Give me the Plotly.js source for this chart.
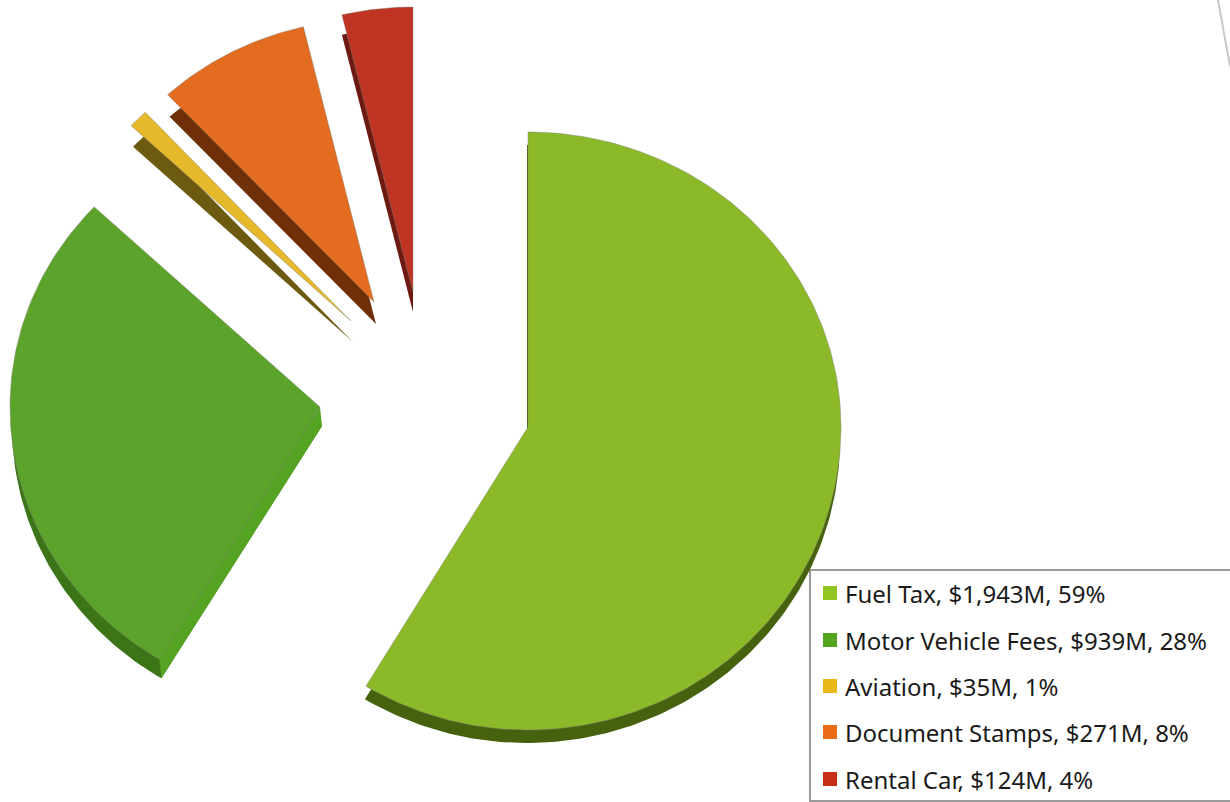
<!DOCTYPE html>
<html>
<head>
<meta charset="utf-8">
<script src="https://cdn.plot.ly/plotly-3.0.1.min.js"></script>
<style>
html,body{margin:0;padding:0;background:#fff}
#chart{width:1230px;height:802px}
</style>
</head>
<body>
<div id="chart"></div>
<script>
// Data
const categories = ["Fuel Tax", "Motor Vehicle Fees", "Aviation", "Document Stamps", "Rental Car"];
const revenue = [1943, 939, 35, 271, 124];
const revenueLabels = ["$1,943M", "$939M", "$35M", "$271M", "$124M"];

// Styles
const topColors = ["#8bb928", "#5ca32b", "#e6b92b", "#e36c20", "#c03423"];
const sideColors = ["#46620f", "#3b7518", "#6b5a10", "#6f3007", "#6e1a12"];
const legendColors = ["#92c521", "#53a31f", "#e7b818", "#ea6a17", "#c82d17"];
const radialFaceColor = "#54a322";

// Geometry of the exploded, tilted pie (pixels on the hidden axes)
const apexX = [528, 320, 351, 374, 413];
const apexY = [427, 407, 321, 302, 292];
const radiusX = [313, 310, 302, 303, 305];
const radiusUp = [295, 292, 285, 283, 285];
const radiusDown = [303, 295, 285, 283, 285];
const depthX = [-1, 2, 2, 2, 0];
const depthY = [13, 19, 21, 22, 20];

const total = revenue.reduce((a, b) => a + b, 0);
const traces = [];
const startAngles = [];
let running = 0;
revenue.forEach(v => { startAngles.push(running); running += v / total * 360; });

function wedge(i, dx, dy) {
  const a0 = startAngles[i], a1 = a0 + revenue[i] / total * 360;
  const xs = [apexX[i] + dx], ys = [apexY[i] + dy];
  const n = Math.max(2, Math.ceil(a1 - a0));
  for (let k = 0; k <= n; k++) {
    const t = (a0 + (a1 - a0) * k / n) * Math.PI / 180;
    const c = Math.cos(t);
    const ry = c >= 0 ? radiusUp[i] : radiusDown[i];
    xs.push(apexX[i] + dx + radiusX[i] * Math.sin(t));
    ys.push(apexY[i] + dy - ry * c);
  }
  xs.push(xs[0]); ys.push(ys[0]);
  return {xs, ys};
}

function poly(x, y, color, name, line) {
  return {type: "scatter", mode: "lines", x, y, fill: "toself", fillcolor: color,
    line: line || {width: 0, color}, hoverinfo: "text", text: name, showlegend: false};
}

categories.forEach((name, i) => {
  const label = name + ", " + revenueLabels[i] + ", " + Math.round(revenue[i] / total * 100) + "%";
  const side = wedge(i, depthX[i], depthY[i]);
  traces.push(poly(side.xs, side.ys, sideColors[i], label));
  if (i === 1) {
    // lit radial face of the motor vehicle slice
    const top = wedge(i, 0, 0);
    traces.push(poly(
      [top.xs[0], top.xs[1], side.xs[1], side.xs[0], top.xs[0]],
      [top.ys[0], top.ys[1], side.ys[1], side.ys[0], top.ys[0]],
      radialFaceColor, label));
  }
  const top = wedge(i, 0, 0);
  traces.push(poly(top.xs, top.ys, topColors[i], label, {width: 1, color: "rgba(130,130,120,0.45)"}));
});

// Legend rows
const legendRowY = [593, 640, 686, 732, 779];
traces.push({type: "scatter", mode: "markers", x: categories.map(() => 830), y: legendRowY,
  marker: {symbol: "square", size: 14, color: legendColors}, hoverinfo: "skip", showlegend: false, cliponaxis: false});

const annotations = categories.map((name, i) => ({
  x: 843, y: legendRowY[i], xref: "x", yref: "y", xanchor: "left", yanchor: "middle",
  showarrow: false, align: "left",
  text: name + ", " + revenueLabels[i] + ", " + Math.round(revenue[i] / total * 100) + "%",
  font: {family: "Noto Sans, DejaVu Sans, sans-serif", size: 24, color: "#1a1a1a"}
}));

const layout = {
  width: 1230, height: 802,
  margin: {l: 0, r: 0, t: 0, b: 0},
  paper_bgcolor: "#fff", plot_bgcolor: "#fff",
  xaxis: {range: [0, 1230], visible: false, fixedrange: true},
  yaxis: {range: [802, 0], visible: false, fixedrange: true},
  showlegend: false,
  annotations,
  shapes: [
    {type: "rect", xref: "x", yref: "y", x0: 810, x1: 1240, y0: 570, y1: 801,
     fillcolor: "#fff", line: {color: "#9a9a9a", width: 2}, layer: "below"},
    {type: "line", xref: "x", yref: "y", x0: 1218, y0: 0, x1: 1230, y1: 66,
     line: {color: "#c8c8c8", width: 2}}
  ]
};
Plotly.newPlot("chart", traces, layout, {displayModeBar: false, staticPlot: false});
</script>
</body>
</html>
